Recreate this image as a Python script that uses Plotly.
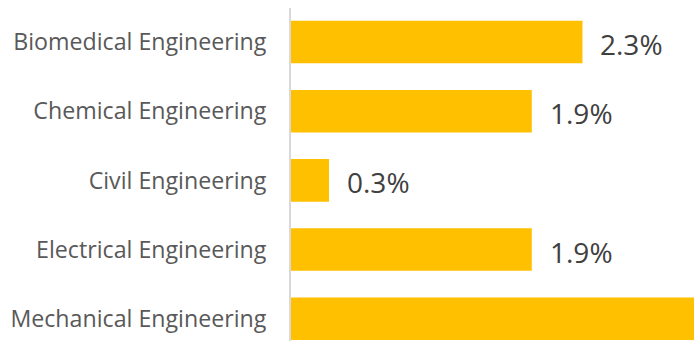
import plotly.graph_objects as go

# Share of graduates by engineering discipline (percent)
majors = [
    "Biomedical Engineering",
    "Chemical Engineering",
    "Civil Engineering",
    "Electrical Engineering",
    "Mechanical Engineering",
]
shares = [2.3, 1.9, 0.3, 1.9, 3.5]

BAR_COLOR = "#FFC000"
X_MAX = 3.18

fig = go.Figure(
    go.Bar(
        y=majors,
        x=shares,
        orientation="h",
        marker=dict(color=BAR_COLOR, line=dict(width=0)),
        width=0.615,
        hoverinfo="skip",
    )
)

# value labels to the right of each bar (only those inside the visible range)
for name, val in zip(majors, shares):
    if val <= X_MAX:
        fig.add_annotation(
            x=val, y=name, xref="x", yref="y",
            text=f"{val:.1f}%",
            showarrow=False,
            xanchor="left", yanchor="middle",
            xshift=16, yshift=-2,
            font=dict(family="Open Sans", size=28, color="#404040"),
        )

fig.update_layout(
    width=694,
    height=341,
    margin=dict(l=291, r=0, t=8, b=0),
    paper_bgcolor="white",
    plot_bgcolor="white",
    showlegend=False,
    xaxis=dict(
        range=[0, X_MAX],
        visible=False,
        showgrid=False,
        zeroline=False,
    ),
    yaxis=dict(
        type="category",
        categoryorder="array",
        categoryarray=majors,
        range=[4.321, -0.491],
        showline=True,
        linecolor="#D9D9D9",
        linewidth=2,
        showgrid=False,
        zeroline=False,
        ticks="",
        ticklabelstandoff=18,
        tickfont=dict(family="Open Sans", size=23.2, color="#595959"),
    ),
)

fig.write_html("out.html")
